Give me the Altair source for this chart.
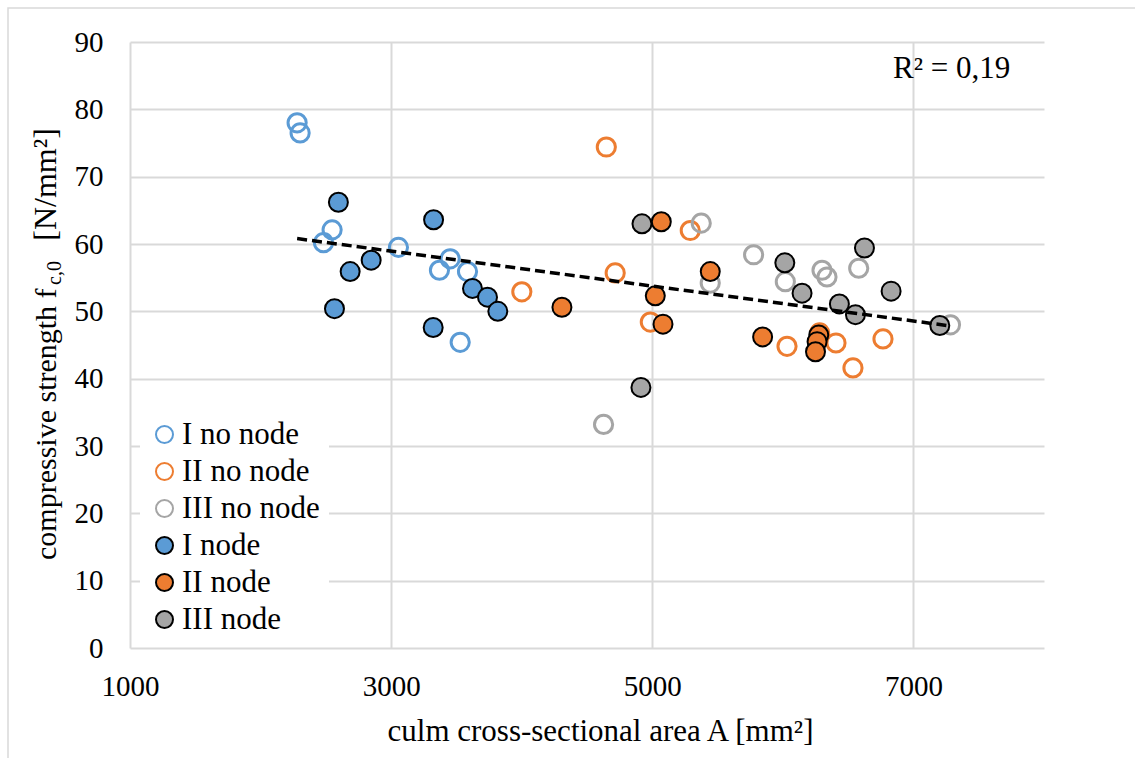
import altair as alt
import pandas as pd

# ---------------- data ----------------
series_names = ["I no node", "II no node", "III no node", "I node", "II node", "III node"]
stroke_colors = ["#5B9BD5", "#ED7D31", "#A5A5A5", "#000000", "#000000", "#000000"]
fill_colors = ["transparent", "transparent", "transparent", "#5B9BD5", "#ED7D31", "#A5A5A5"]

i_no_node_A = [2280, 2303, 2548, 2482, 3056, 3452, 3370, 3585, 3529]
i_no_node_f = [78.0, 76.5, 62.1, 60.2, 59.5, 57.8, 56.1, 55.9, 45.4]

ii_no_node_A = [4001, 4648, 4716, 4985, 5291, 6032, 6282, 6407, 6537, 6767]
ii_no_node_f = [52.9, 74.4, 55.7, 48.4, 62.0, 44.8, 46.8, 45.3, 41.6, 45.9]

iii_no_node_A = [4627, 5375, 5444, 5776, 6019, 6300, 6338, 6581, 7284]
iii_no_node_f = [33.2, 63.1, 54.2, 58.4, 54.4, 56.1, 55.1, 56.4, 48.0]

i_node_A = [2596, 3325, 2847, 2686, 2566, 3623, 3738, 3817, 3322]
i_node_f = [66.2, 63.6, 57.6, 55.9, 50.4, 53.4, 52.1, 50.0, 47.6]

ii_node_A = [4308, 5023, 5069, 5082, 5444, 5845, 6275, 6262, 6250]
ii_node_f = [50.6, 52.3, 63.3, 48.1, 55.9, 46.2, 46.5, 45.5, 44.0]

iii_node_A = [4913, 4921, 6015, 6147, 6433, 6556, 6625, 6829, 7202]
iii_node_f = [38.7, 63.0, 57.2, 52.7, 51.1, 49.5, 59.4, 53.0, 47.9]

x_ticks = [1000, 3000, 5000, 7000]
y_ticks = [0, 10, 20, 30, 40, 50, 60, 70, 80, 90]
r2_label = "R² = 0,19"
x_title = "culm cross-sectional area A [mm²]"
y_title_main = "compressive strength f"
y_title_sub = "c,0"
y_title_unit = "[N/mm²]"

groups = [
    ("I no node", i_no_node_A, i_no_node_f, "open"),
    ("II no node", ii_no_node_A, ii_no_node_f, "open"),
    ("III no node", iii_no_node_A, iii_no_node_f, "open"),
    ("I node", i_node_A, i_node_f, "filled"),
    ("II node", ii_node_A, ii_node_f, "filled"),
    ("III node", iii_node_A, iii_node_f, "filled"),
]
rows = []
for name, A, F, kind in groups:
    for a, f in zip(A, F):
        rows.append({"series": name, "A": a, "fc": f, "kind": kind})
df = pd.DataFrame(rows)

FONT = "Liberation Serif"
GRID = "#d9d9d9"

legend = alt.Legend(
    orient="none", legendX=10, legendY=368, fillColor="white", padding=9,
    labelFont=FONT, labelFontSize=31, labelColor="black", labelOffset=2,
    symbolSize=289, symbolStrokeWidth=2, symbolType="circle", rowPadding=5,
    title=None,
)

x_enc = alt.X(
    "A:Q",
    scale=alt.Scale(domain=[1000, 8000], nice=False),
    axis=alt.Axis(
        values=x_ticks, title=x_title, format="d",
        labelFont=FONT, labelFontSize=29,
        labelBaseline="alphabetic", labelPadding=47,
        titleX=470, titleY=92, titleBaseline="alphabetic", titleAlign="center",
    ),
)
y_enc = alt.Y(
    "fc:Q",
    scale=alt.Scale(domain=[0, 90], nice=False),
    axis=alt.Axis(values=y_ticks, title=None, labelPadding=27,
                  labelFont=FONT, labelFontSize=29),
)
stroke_enc = alt.Stroke("series:N", scale=alt.Scale(domain=series_names, range=stroke_colors), legend=legend)
fill_enc = alt.Fill("series:N", scale=alt.Scale(domain=series_names, range=fill_colors), legend=legend)

base = alt.Chart(df)

open_pts = base.transform_filter(alt.datum.kind == "open").mark_point(
    shape="circle", filled=True, size=330, strokeWidth=3, opacity=1
).encode(x=x_enc, y=y_enc, stroke=stroke_enc, fill=fill_enc)

filled_pts = base.transform_filter(alt.datum.kind == "filled").mark_point(
    shape="circle", filled=True, size=361, strokeWidth=2, opacity=1
).encode(x=x_enc, y=y_enc, stroke=stroke_enc, fill=fill_enc)

trend = base.transform_regression("A", "fc").mark_line(
    color="black", strokeWidth=3.5, strokeDash=[10, 5]
).encode(x=alt.X("A:Q"), y=alt.Y("fc:Q"))

r2 = alt.Chart(pd.DataFrame({"t": [r2_label]})).mark_text(
    font=FONT, fontSize=31, color="black", align="left", baseline="alphabetic"
).encode(text="t:N", x=alt.value(763), y=alt.value(36))

frame = alt.Chart(pd.DataFrame({"t": [0]})).mark_rect(
    fillOpacity=0, stroke=GRID, strokeWidth=1.5
).encode(x=alt.value(-122), x2=alt.value(1015), y=alt.value(-34), y2=alt.value(730))

yt1 = alt.Chart(pd.DataFrame({"t": [y_title_main]})).mark_text(
    font=FONT, fontSize=30, color="black", align="left", baseline="alphabetic", angle=270
).encode(text="t:N", x=alt.value(-74), y=alt.value(518))
yt2 = alt.Chart(pd.DataFrame({"t": [y_title_sub]})).mark_text(
    font=FONT, fontSize=20, color="black", align="left", baseline="alphabetic", angle=270
).encode(text="t:N", x=alt.value(-69), y=alt.value(243))
yt3 = alt.Chart(pd.DataFrame({"t": [y_title_unit]})).mark_text(
    font=FONT, fontSize=32, color="black", align="right", baseline="alphabetic", angle=270
).encode(text="t:N", x=alt.value(-74), y=alt.value(86))

chart = alt.layer(
    frame, open_pts, filled_pts, trend, r2, yt1, yt2, yt3
).properties(
    width=914, height=606,
    autosize=alt.AutoSizeParams(type="none"),
    padding={"left": 130, "top": 42, "right": 91, "bottom": 110},
    background="white",
).configure_view(
    strokeWidth=0
).configure_axis(
    grid=True, gridColor=GRID, gridWidth=2, domain=False, ticks=False,
    labelFont=FONT, labelFontSize=29, labelColor="black", labelFlush=False,
    titleFont=FONT, titleFontSize=31, titleFontWeight="normal", titleColor="black",
).configure_legend(
    labelFont=FONT
).configure_text(
    font=FONT
)

chart.save("out.html", embed_options={"renderer": "svg", "actions": False})
